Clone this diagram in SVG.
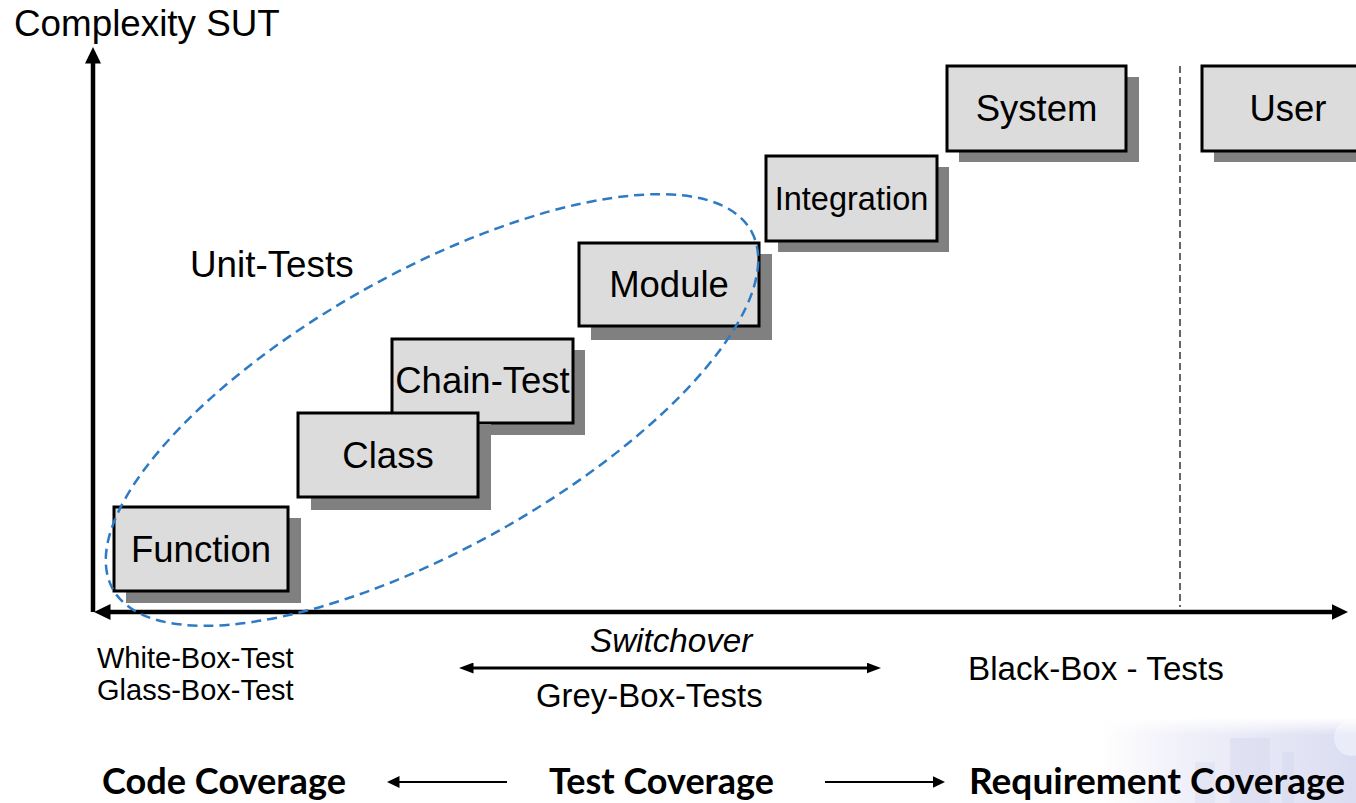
<svg xmlns="http://www.w3.org/2000/svg" width="1356" height="803" viewBox="0 0 1356 803">
  <defs>
    <style>
      .box { fill: #dcdcdc; stroke: #000; stroke-width: 3; }
      .shadow { fill: #808080; }
      .lbl { font-family: "Liberation Sans", Arial, sans-serif; font-size: 36.5px; fill: #000; text-anchor: middle; }
      .txt { font-family: "Liberation Sans", Arial, sans-serif; fill: #000; }
      .bold { font-family: Lato, "Liberation Sans", sans-serif; font-weight: bold; font-size: 36px; fill: #000; }
      .axis { stroke: #000; stroke-width: 4.5; fill: none; }
      .thin { stroke: #000; fill: none; }
    </style>
    <marker id="axisHead" markerUnits="userSpaceOnUse" markerWidth="17" markerHeight="16" viewBox="0 0 17 16" refX="0.5" refY="8" orient="auto-start-reverse">
      <path d="M0,0 L16.5,8 L0,16 z" fill="#000"/>
    </marker>
    <marker id="midHead" markerUnits="userSpaceOnUse" markerWidth="15" markerHeight="11" viewBox="0 0 15 11" refX="0.5" refY="5.5" orient="auto-start-reverse">
      <path d="M0,0 L14.5,5.5 L0,11 z" fill="#000"/>
    </marker>
    <marker id="smallHead" markerUnits="userSpaceOnUse" markerWidth="13" markerHeight="12" viewBox="0 0 13 12" refX="0.5" refY="6" orient="auto-start-reverse">
      <path d="M0,0 L12.5,6 L0,12 z" fill="#000"/>
    </marker>
    <linearGradient id="bgFade" x1="0" y1="0" x2="1" y2="0">
      <stop offset="0" stop-color="#e4e4f4" stop-opacity="0"/>
      <stop offset="0.35" stop-color="#e4e5f5" stop-opacity="0.6"/>
      <stop offset="1" stop-color="#d8daf0" stop-opacity="0.95"/>
    </linearGradient>
    <linearGradient id="bgFadeV" x1="0" y1="0" x2="0" y2="1">
      <stop offset="0" stop-color="#fff" stop-opacity="1"/>
      <stop offset="0.2" stop-color="#fff" stop-opacity="0"/>
    </linearGradient>
  </defs>

  <rect width="1356" height="803" fill="#fff"/>

  <!-- faint background picture, bottom right -->
  <g id="background-texture">
    <rect x="1100" y="718" width="256" height="85" fill="url(#bgFade)"/>
    <rect x="1230" y="738" width="40" height="65" fill="#cdd0ec" opacity="0.35"/>
    <rect x="1195" y="762" width="20" height="41" fill="#d4d6ee" opacity="0.35"/>
    <rect x="1282" y="752" width="12" height="51" fill="#cacdea" opacity="0.3"/>
    <circle cx="1352" cy="738" r="18" fill="#eef0fa" opacity="0.8"/>
    <rect x="1100" y="718" width="256" height="85" fill="url(#bgFadeV)"/>
  </g>

  <!-- axes and connectors -->
  <g id="connectors">
    <line class="axis" x1="93" y1="612" x2="93" y2="63" marker-end="url(#axisHead)"/>
    <line class="axis" x1="110" y1="612" x2="1332" y2="612" marker-start="url(#axisHead)" marker-end="url(#axisHead)"/>
    <line x1="1180" y1="66" x2="1180" y2="607" stroke="#333" stroke-width="1.5" stroke-dasharray="7 4"/>
    <line class="thin" stroke-width="3" x1="473" y1="668" x2="867" y2="668" marker-start="url(#midHead)" marker-end="url(#midHead)"/>
    <line class="thin" stroke-width="2" x1="507" y1="782" x2="399" y2="782" marker-end="url(#smallHead)"/>
    <line class="thin" stroke-width="2" x1="825" y1="782" x2="933" y2="782" marker-end="url(#smallHead)"/>
  </g>

  <g id="node-function">
    <rect class="shadow" x="126" y="518" width="175" height="85"/>
    <rect class="box" x="114" y="507" width="174" height="84"/>
    <text class="lbl" x="201" y="562">Function</text>
  </g>
  <g id="node-chain-test">
    <rect class="shadow" x="404" y="350" width="181" height="85"/>
    <rect class="box" x="392" y="339" width="181" height="84"/>
    <text class="lbl" x="482.5" y="393">Chain-Test</text>
  </g>
  <g id="node-class">
    <rect class="shadow" x="311" y="424" width="180" height="86"/>
    <rect class="box" x="298" y="413" width="180" height="84"/>
    <text class="lbl" x="388" y="468">Class</text>
  </g>
  <g id="node-module">
    <rect class="shadow" x="591" y="254" width="181" height="86"/>
    <rect class="box" x="579" y="243" width="180" height="83"/>
    <text class="lbl" x="669" y="297">Module</text>
  </g>
  <g id="node-integration">
    <rect class="shadow" x="778" y="167" width="171" height="85"/>
    <rect class="box" x="766" y="156" width="171" height="85"/>
    <text class="lbl" x="851.5" y="210" style="font-size:32.5px">Integration</text>
  </g>
  <g id="node-system">
    <rect class="shadow" x="959" y="77" width="180" height="85"/>
    <rect class="box" x="947" y="66" width="179" height="85"/>
    <text class="lbl" x="1036.5" y="121">System</text>
  </g>
  <g id="node-user">
    <rect class="shadow" x="1214" y="77" width="176" height="85"/>
    <rect class="box" x="1202" y="66" width="176" height="85"/>
    <text class="lbl" x="1288" y="121">User</text>
  </g>

  <g id="unit-tests-group">
    <ellipse cx="432" cy="410" rx="366" ry="138" transform="rotate(-29.3 432 410)" fill="none" stroke="#2e7bc4" stroke-width="2.5" stroke-dasharray="10 6"/>
  </g>

  <g id="labels">
    <text class="txt" x="14" y="36" font-size="36.8">Complexity SUT</text>
    <text class="txt" x="190" y="277" font-size="36.8">Unit-Tests</text>
    <text class="txt" x="97" y="668" font-size="29">White-Box-Test</text>
    <text class="txt" x="97" y="700" font-size="29">Glass-Box-Test</text>
    <text class="txt" x="590" y="652" font-size="33.2" font-style="italic">Switchover</text>
    <text class="txt" x="536" y="707" font-size="32.9">Grey-Box-Tests</text>
    <text class="txt" x="968" y="680" font-size="33.2">Black-Box - Tests</text>
    <text class="bold" x="102" y="794" textLength="244" lengthAdjust="spacingAndGlyphs">Code Coverage</text>
    <text class="bold" x="549" y="794" textLength="225" lengthAdjust="spacingAndGlyphs">Test Coverage</text>
    <text class="bold" x="969" y="794" textLength="376" lengthAdjust="spacingAndGlyphs">Requirement Coverage</text>
  </g>
</svg>
